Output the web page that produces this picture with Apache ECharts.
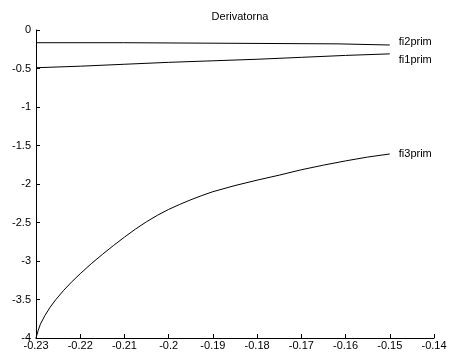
<!DOCTYPE html>
<html>
<head>
<meta charset="utf-8">
<script src="https://cdn.jsdelivr.net/npm/echarts@6/dist/echarts.min.js"></script>
<style>html,body{margin:0;padding:0;background:#fff}#c{width:451px;height:356px}</style>
</head>
<body>
<div id="c"></div>
<script>
const titleText = 'Derivatorna';
const seriesNames = ['fi2prim', 'fi1prim', 'fi3prim'];

const x2 = [-0.23, -0.2102, -0.2098, -0.1617, -0.1613, -0.15];
const fi2 = [-0.165, -0.165, -0.18, -0.18, -0.195, -0.195];

const x1 = [-0.23, -0.22, -0.21, -0.20, -0.19, -0.18, -0.17, -0.16, -0.15];
const fi1 = [-0.49, -0.47, -0.445, -0.42, -0.40, -0.38, -0.355, -0.33, -0.31];

const x3 = [-0.23, -0.2295, -0.229, -0.228, -0.2268, -0.2255, -0.2238, -0.222, -0.22, -0.2175, -0.215, -0.2125, -0.21, -0.2075, -0.205, -0.2025, -0.20, -0.1975, -0.195, -0.1925, -0.19, -0.185, -0.18, -0.175, -0.17, -0.165, -0.16, -0.155, -0.15];
const fi3 = [-4.0, -3.9, -3.82, -3.71, -3.60, -3.50, -3.385, -3.275, -3.165, -3.035, -2.915, -2.80, -2.69, -2.585, -2.49, -2.405, -2.33, -2.265, -2.205, -2.15, -2.10, -2.02, -1.95, -1.885, -1.815, -1.755, -1.70, -1.65, -1.61];

const xMin = -0.23, xMax = -0.14, xStep = 0.01;
const yMin = -4, yMax = 0, yStep = 0.5;

const zip = (xs, ys) => xs.map((x, i) => [x, ys[i]]);
const fontFamily = 'Liberation Sans, Arial, sans-serif';

const labelOffsets = [[0, -3], [0, 6], [0, 0]];
const datasets = [zip(x2, fi2), zip(x1, fi1), zip(x3, fi3)];

const chart = echarts.init(document.getElementById('c'));
chart.setOption({
  animation: false,
  backgroundColor: '#fff',
  title: {
    text: titleText, left: 235, top: 6, textAlign: 'center',
    textStyle: { fontSize: 11, fontWeight: 'normal', color: '#000', fontFamily }
  },
  grid: { left: 36, right: 17, top: 30, bottom: 18 },
  xAxis: {
    type: 'value', min: xMin, max: xMax, interval: xStep,
    axisLine: { show: true, onZero: false, lineStyle: { color: '#000', width: 1 } },
    axisTick: { show: true, inside: true, length: 4, lineStyle: { color: '#000' } },
    splitLine: { show: false },
    axisLabel: { color: '#000', fontSize: 11, fontFamily, margin: 2,
      formatter: v => String(Number(v.toFixed(2))) }
  },
  yAxis: {
    type: 'value', min: yMin, max: yMax, interval: yStep,
    axisLine: { show: true, onZero: false, lineStyle: { color: '#000', width: 1 } },
    axisTick: { show: true, inside: true, length: 4, lineStyle: { color: '#000' } },
    splitLine: { show: false },
    axisLabel: { color: '#000', fontSize: 11, fontFamily, margin: 5,
      formatter: v => String(Number(v.toFixed(2))) }
  },
  series: seriesNames.map((name, i) => ({
    name, type: 'line', data: datasets[i], showSymbol: false, symbol: 'none',
    lineStyle: { color: '#000', width: 1 },
    itemStyle: { color: '#000' },
    clip: false,
    endLabel: { show: true, formatter: '{a}', distance: 9, offset: labelOffsets[i],
      color: '#000', fontSize: 11, fontFamily }
  }))
});
</script>
</body>
</html>
